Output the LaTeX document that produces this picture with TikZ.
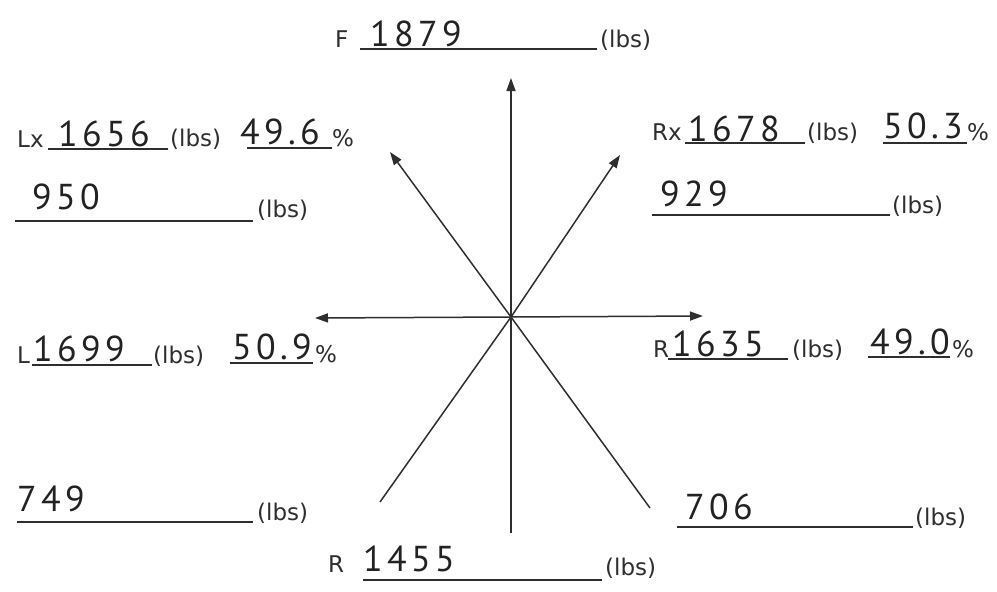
\documentclass[tikz,border=0pt]{standalone}
\usepackage{fontspec}
\setmainfont{DejaVu Sans}
\newfontfamily\handfont[LetterSpace=12]{PT Sans}
\usetikzlibrary{arrows.meta}
\definecolor{ink}{HTML}{2E2E2E}
\definecolor{pen}{HTML}{222222}

\begin{document}
\begin{tikzpicture}[x=1pt, y=-1pt,
  >={Triangle[length=13pt, width=9pt]},
  force/.style={->, line width=1.5pt, draw=ink},
  leg/.style={line width=1.5pt, draw=ink},
  blank/.style={line width=1.1pt, draw=ink},
  print/.style={anchor=base west, inner sep=0pt, text=ink, font=\fontsize{23}{26}\selectfont},
  hand/.style={anchor=base west, inner sep=0pt, text=pen, font=\handfont\fontsize{36}{38}\selectfont}]

  \useasboundingbox (0,0) rectangle (997,592);

  % Centre of the star and the ends of the rays
  \coordinate (c) at (511,317);
  \coordinate (ftip) at (511,78);
  \coordinate (bend) at (511,533);
  \coordinate (ltip) at (315,318);
  \coordinate (rtip) at (703,316);
  \coordinate (lxtip) at (390,152);
  \coordinate (lxend) at (650,508);
  \coordinate (rxtip) at (620,155);
  \coordinate (rxend) at (380,502);

  % Rays: arrows point outwards, the lower halves have no tips
  \draw[force] (c) -- (ftip);
  \draw[leg] (c) -- (bend);
  \draw[force] (c) -- (ltip);
  \draw[force] (c) -- (rtip);
  \draw[force] (c) -- (lxtip);
  \draw[leg] (c) -- (lxend);
  \draw[force] (c) -- (rxtip);
  \draw[leg] (c) -- (rxend);

  % Blank lines to write on (x from, x to, y)
  \foreach \xa/\xb/\y in {
    360/597/49, 48/168/149, 247/332/148, 15/253/221,
    685/805/143, 883/967/143, 652/890/215,
    32/152/365, 230/313/363, 668/788/359, 868/950/357,
    17/253/522, 677/913/527, 363/602/580
  } {
    \draw[blank] (\xa,\y) -- (\xb,\y);
  }

  % Printed words of the form
  \foreach \name/\x/\y/\txt in {
    f/335/47/F, lx/17/147/Lx, rx/652/140/Rx,
    l/17/363/L, r/653/357/R, b/328/572/R,
    lxpc/332/146/\%, rxpc/967/140/\%, lpc/315/362/\%, rpc/952/357/\%
  } {
    \node[print] (\name) at (\x,\y) {\txt};
  }
  \foreach \name/\x/\y in {
    lbsf/600/47, lbslx/170/146, lbslxb/257/217, lbsrx/807/140, lbsrxb/892/213,
    lbsl/153/363, lbsr/792/357, lbslb/257/520, lbsrb/915/525, lbsb/605/575
  } {
    \node[print] (\name) at (\x,\y) {(lbs)};
  }

  % Handwritten readings
  \foreach \name/\x/\y/\txt in {
    valf/370/46/1879, vallx/58/146/1656, pclx/240/144/49.6, vallxb/32/209/950,
    valrx/688/141/1678, pcrx/883/138/50.3, valrxb/660/206/929,
    vall/33/361/1699, pcl/232/359/50.9, valr/672/356/1635, pcr/870/354/49.0,
    vallb/17/511/749, valrb/685/519/706, valb/363/571/1455
  } {
    \node[hand] (\name) at (\x,\y) {\txt};
  }
\end{tikzpicture}
\end{document}
